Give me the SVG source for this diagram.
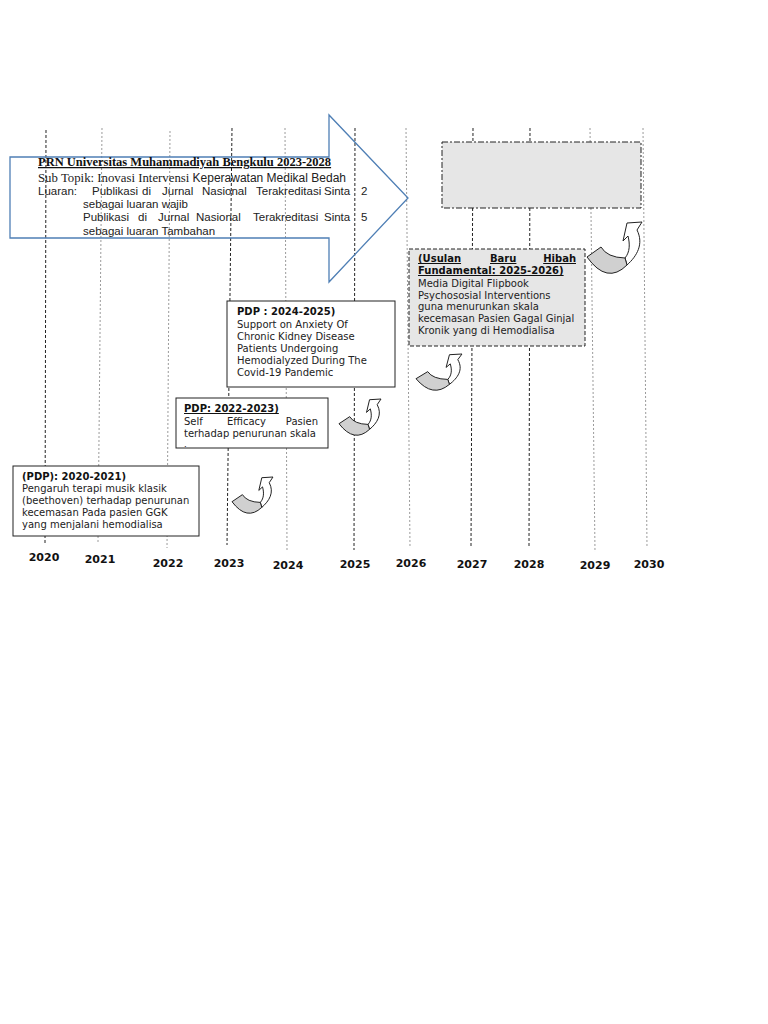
<svg xmlns="http://www.w3.org/2000/svg" xmlns:xlink="http://www.w3.org/1999/xlink" width="768" height="1024" viewBox="0 0 768 1024">
<style>
.vb{stroke:#222;stroke-width:1;stroke-dasharray:3,2;fill:none}
.vg{stroke:#9a9a9a;stroke-width:1;stroke-dasharray:2,2;fill:none}
.yr{font-family:"DejaVu Sans",sans-serif;font-size:11px;font-weight:bold;fill:#111;text-anchor:middle}
.bx{font-family:"DejaVu Sans",sans-serif;font-size:10px;fill:#222}
.bb{font-weight:bold;fill:#111}
.ul{text-decoration:underline}
.ar{font-family:"Liberation Sans",Arial,sans-serif;font-size:11.5px;fill:#222}
.sf{font-family:"Liberation Serif","Times New Roman",serif}
</style>
<defs>
<g id="curl">
<path d="M40,1 L55,0 L50,8 C57,22 50,34 40,43 L38,36 C43,30 43,22 41,14 L36,19 Z" fill="#fff" stroke="#222" stroke-width="1" vector-effect="non-scaling-stroke"/>
<path d="M0,35 Q20,63 40,43 L38,36 Q20,35.5 14,25 Z" fill="#d0d0d0" stroke="#222" stroke-width="1" vector-effect="non-scaling-stroke"/>
</g>
<clipPath id="c22"><rect x="176" y="398" width="152" height="49"/></clipPath>
</defs>

<g id="timeline-lines">
<line class="vb" x1="46" y1="130" x2="45" y2="545"/>
<line class="vg" x1="102" y1="128" x2="98" y2="542"/>
<line class="vg" x1="170" y1="131" x2="167" y2="548"/>
<line class="vb" x1="232" y1="128" x2="227" y2="545"/>
<line class="vg" x1="285" y1="128" x2="287" y2="550"/>
<line class="vb" x1="355" y1="128" x2="354" y2="550"/>
<line class="vg" x1="406" y1="128" x2="410" y2="548"/>
<line class="vb" x1="473" y1="128" x2="471" y2="546"/>
<line class="vb" x1="530" y1="128" x2="529" y2="548"/>
<line class="vg" x1="590" y1="128" x2="595" y2="552"/>
<line class="vg" x1="643" y1="128" x2="647" y2="548"/>
</g>

<g id="years">
<text class="yr" x="44" y="561">2020</text>
<text class="yr" x="100" y="563">2021</text>
<text class="yr" x="168" y="567">2022</text>
<text class="yr" x="229" y="567">2023</text>
<text class="yr" x="288" y="569">2024</text>
<text class="yr" x="355" y="568">2025</text>
<text class="yr" x="411" y="567">2026</text>
<text class="yr" x="472" y="568">2027</text>
<text class="yr" x="529" y="568">2028</text>
<text class="yr" x="595" y="569">2029</text>
<text class="yr" x="649" y="568">2030</text>
</g>

<g id="prn-arrow">
<polygon points="10,157 329,157 329,115 408,198 329,282 329,238 10,238" fill="none" stroke="#4f7fb5" stroke-width="1.3"/>
<text class="sf ul" x="38" y="166" font-size="12.5" font-weight="bold" fill="#111">PRN Universitas Muhammadiyah Bengkulu 2023-2028</text>
<text x="38" y="182" fill="#222"><tspan class="sf" font-size="12.8">Sub Topik: Inovasi Intervensi </tspan><tspan font-family="Liberation Sans, Arial, sans-serif" font-size="12">Keperawatan Medikal Bedah</tspan></text>
<text class="ar" y="195"><tspan x="38">Luaran:</tspan><tspan x="92">Publikasi</tspan><tspan x="142">di</tspan><tspan x="162">Jurnal</tspan><tspan x="202">Nasional</tspan><tspan x="256">Terakreditasi</tspan><tspan x="324">Sinta</tspan><tspan x="361">2</tspan></text>
<text class="ar" x="83" y="208">sebagai luaran wajib</text>
<text class="ar" y="221"><tspan x="83">Publikasi</tspan><tspan x="138">di</tspan><tspan x="158">Jurnal</tspan><tspan x="196">Nasional</tspan><tspan x="253">Terakreditasi</tspan><tspan x="324">Sinta</tspan><tspan x="361">5</tspan></text>
<text class="ar" x="83" y="235">sebagai luaran Tambahan</text>
</g>

<g id="empty-box">
<rect x="442" y="142" width="199" height="66" fill="#e6e6e6" stroke="#222" stroke-width="1" stroke-dasharray="6,2,2,2"/>
</g>

<g id="usulan">
<rect x="409" y="249" width="176" height="97" fill="#e6e6e6" stroke="#222" stroke-width="1" stroke-dasharray="4,2"/>
<text class="bx bb ul" y="262"><tspan x="418">(Usulan</tspan><tspan x="490">Baru</tspan><tspan x="576" text-anchor="end">Hibah</tspan></text>
<text class="bx bb ul" x="418" y="274">Fundamental: 2025-2026)</text>
<text class="bx" x="418" y="287">Media Digital Flipbook</text>
<text class="bx" x="418" y="299">Psychososial Interventions</text>
<text class="bx" x="418" y="310">guna menurunkan skala</text>
<text class="bx" x="418" y="322">kecemasan Pasien Gagal Ginjal</text>
<text class="bx" x="418" y="334">Kronik yang di Hemodialisa</text>
</g>

<g id="pdp-2024">
<rect x="227" y="301" width="168" height="86" fill="#fff" stroke="#222" stroke-width="1"/>
<text class="bx bb" x="237" y="315">PDP : 2024-2025)</text>
<text class="bx" x="237" y="328">Support on Anxiety Of</text>
<text class="bx" x="237" y="340">Chronic Kidney Disease</text>
<text class="bx" x="237" y="352">Patients Undergoing</text>
<text class="bx" x="237" y="364">Hemodialyzed During The</text>
<text class="bx" x="237" y="376">Covid-19 Pandemic</text>
</g>

<g id="pdp-2022">
<rect x="176" y="398" width="152" height="50" fill="#fff" stroke="#222" stroke-width="1"/>
<text class="bx bb ul" x="184" y="412">PDP: 2022-2023)</text>
<text class="bx" y="425"><tspan x="184">Self</tspan><tspan x="227">Efficacy</tspan><tspan x="318" text-anchor="end">Pasien</tspan></text>
<text class="bx" x="184" y="437">terhadap penurunan skala</text>
<text class="bx" x="184" y="453.5" clip-path="url(#c22)">kecemasan</text>
</g>

<g id="pdp-2020">
<rect x="13" y="466" width="186" height="70" fill="#fff" stroke="#222" stroke-width="1"/>
<text class="bx bb" x="22" y="480">(PDP): 2020-2021)</text>
<text class="bx" x="22" y="492">Pengaruh terapi musik klasik</text>
<text class="bx" x="22" y="504">(beethoven) terhadap penurunan</text>
<text class="bx" x="22" y="516">kecemasan Pada pasien GGK</text>
<text class="bx" x="22" y="528">yang menjalani hemodialisa</text>
</g>

<g id="connectors">
<use xlink:href="#curl" href="#curl" transform="translate(232,477) scale(0.745,0.706)"/>
<use xlink:href="#curl" href="#curl" transform="translate(339,399) scale(0.764,0.706)"/>
<use xlink:href="#curl" href="#curl" transform="translate(416,354) scale(0.836,0.706)"/>
<use xlink:href="#curl" href="#curl" transform="translate(587,222) scale(1,1)"/>
</g>
</svg>
